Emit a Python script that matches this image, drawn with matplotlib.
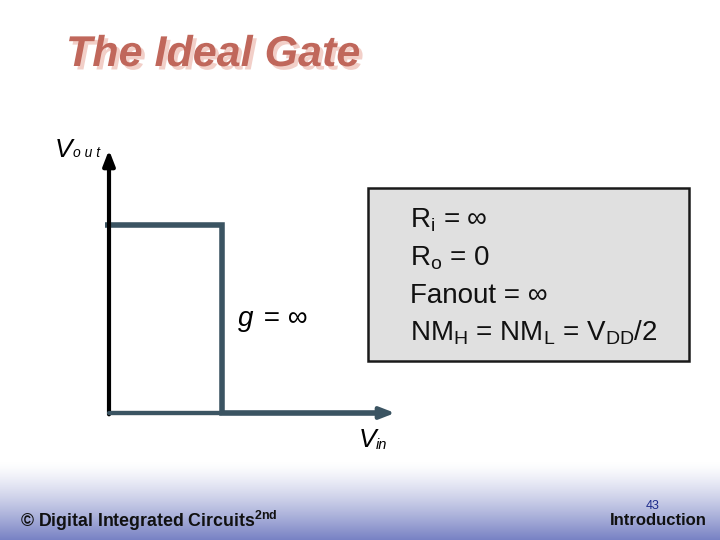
import matplotlib.pyplot as plt
import matplotlib.patheffects as pe
import numpy as np
from matplotlib.patches import Rectangle

# transfer curve of the ideal gate (V_in, V_out), VDD = 1, switching at VDD/2
v_in = [-0.018, 0.5, 0.5, 1.22]
v_out = [1.0, 1.0, 0.0, 0.0]

props = ['R$_\\mathregular{i}$ = \u221e',
         'R$_\\mathregular{o}$ = 0',
         'Fanout = \u221e',
         'NM$_\\mathregular{H}$ = NM$_\\mathregular{L}$ = V$_\\mathregular{DD}$/2']

curve_color = '#3b5462'
title_color = '#c0675b'
font = ['Liberation Sans', 'DejaVu Sans']

plt.rcParams.update({'font.family': font,
                     'mathtext.fontset': 'custom',
                     'mathtext.rm': 'Liberation Sans',
                     'mathtext.it': 'Liberation Sans:italic',
                     'mathtext.bf': 'Liberation Sans:bold'})

fig = plt.figure(figsize=(7.2, 5.4), dpi=100)

# background axes in pixel units
bg = fig.add_axes([0, 0, 1, 1])
bg.set_xlim(0, 720)
bg.set_ylim(540, 0)
bg.axis('off')

# footer gradient
grad = np.linspace(0, 1, 100)[:, None] ** 1.3
c0 = np.array([1.0, 1.0, 1.0])
c1 = np.array([0x78, 0x82, 0xc4]) / 255
img = c0 + (c1 - c0) * grad[..., None]
img = np.repeat(img, 2, axis=1)
bg.imshow(img, extent=[0, 720, 540, 462], aspect='auto', zorder=0)

# title with soft shadow
bg.text(66, 55, 'The Ideal Gate', fontsize=31, fontweight='bold', style='italic',
        color=title_color, va='center', ha='left',
        path_effects=[pe.withSimplePatchShadow(offset=(2.5, -2.5),
                                               shadow_rgbFace='#f2cfc8', alpha=1)])

# properties box
bg.add_patch(Rectangle((368, 188), 321, 173, facecolor='#e0e0e0',
                       edgecolor='#1a1a1a', lw=1.8, zorder=1))
for i, s in enumerate(props):
    bg.text(410, 228 + i * 37.5, s, fontsize=20, color='#111111',
            va='baseline', ha='left', zorder=2)

# axis labels
bg.text(55, 157, 'V', fontsize=19, style='italic', va='baseline')
bg.text(73, 157, 'o u t', fontsize=10, style='italic', va='baseline')
bg.text(359, 447, 'V', fontsize=19, style='italic', va='baseline')
bg.text(376, 449, 'in', fontsize=10.5, style='italic', va='baseline')
bg.text(238, 326, 'g', fontsize=20, style='italic', va='baseline')
bg.text(256, 326, ' = \u221e', fontsize=20, va='baseline')

# footer text
bg.text(20, 527, '\u00a9 Digital Integrated Circuits$^\\mathregular{2nd}$',
        fontsize=12.8, fontweight='bold', color='#111111', va='baseline')
bg.text(653, 509, '43', fontsize=9, color='#1c2a8a', va='baseline', ha='center')
bg.text(707, 525, 'Introduction', fontsize=12, fontweight='bold',
        color='#111111', va='baseline', ha='right')

# transfer characteristic axes
ax = fig.add_axes([109 / 720, 1 - 413 / 540, 286 / 720, 263 / 540])
ax.set_xlim(0, 1.265)
ax.set_ylim(0, 1.40)
ax.axis('off')
ax.annotate('', xy=(0, 1.0), xytext=(0, -0.005), xycoords='axes fraction',
            arrowprops=dict(arrowstyle='-|>,head_length=0.9,head_width=0.35',
                            color='black', lw=3, shrinkA=0, shrinkB=0))
ax.annotate('', xy=(1.0, 0), xytext=(0, 0), xycoords='axes fraction',
            arrowprops=dict(arrowstyle='-|>,head_length=0.9,head_width=0.35',
                            color=curve_color, lw=3, shrinkA=0, shrinkB=0))
ax.plot([0, 0.5], [0, 0], color='black', lw=3, solid_capstyle='butt', clip_on=False)
ax.plot(v_in, v_out, color=curve_color, lw=4, solid_joinstyle='miter',
        solid_capstyle='butt', clip_on=False)

fig.savefig('out.png', dpi=100)
